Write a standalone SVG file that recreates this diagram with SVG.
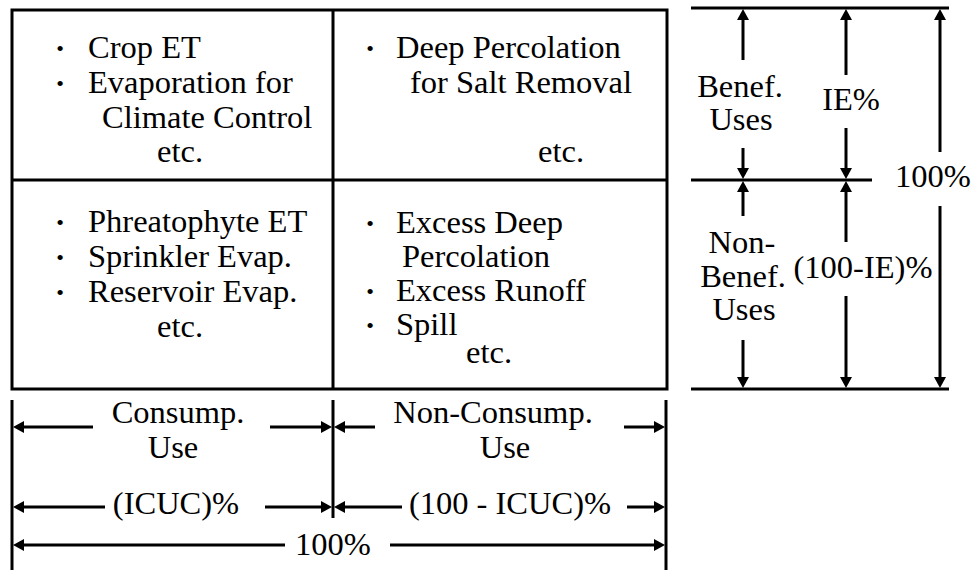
<svg xmlns="http://www.w3.org/2000/svg" width="971" height="570" viewBox="0 0 971 570">
<style>
  .t { font-family: "Liberation Serif", "DejaVu Serif", serif; font-size: 32.5px; fill: #000; }
  .m { text-anchor: middle; }
  .b { font-family: "Liberation Serif", "DejaVu Serif", serif; font-size: 22px; text-anchor: middle; fill: #000; }
  .box { fill: #fff; stroke: #000; stroke-width: 3; }
  .ln { fill: none; stroke: #000; stroke-width: 3; }
  .ar { fill: none; stroke: #000; stroke-width: 3; marker-end: url(#ah); }
</style>
<defs>
  <marker id="ah" markerUnits="userSpaceOnUse" viewBox="0 0 11 12" markerWidth="11" markerHeight="12" refX="6" refY="6" orient="auto">
    <path d="M0,0 L11,6 L0,12 Z" fill="#000"/>
  </marker>
</defs>
<rect width="971" height="570" fill="#fff"/>

<g id="matrix">
  <rect class="box" x="12" y="10" width="655" height="379"/>
  <line class="ln" x1="333" y1="10" x2="333" y2="389"/>
  <line class="ln" x1="12" y1="180" x2="667" y2="180"/>
</g>

<g id="cell-consumptive-beneficial">
  <text class="b" x="60" y="56">•</text>
  <text class="t" x="88" y="58">Crop ET</text>
  <text class="b" x="60" y="91">•</text>
  <text class="t" x="88" y="93">Evaporation for</text>
  <text class="t" x="102" y="128">Climate Control</text>
  <text class="t" x="157" y="162">etc.</text>
</g>

<g id="cell-nonconsumptive-beneficial">
  <text class="b" x="370" y="56">•</text>
  <text class="t" x="396" y="58">Deep Percolation</text>
  <text class="t" x="410" y="93">for Salt Removal</text>
  <text class="t" x="538" y="162">etc.</text>
</g>

<g id="cell-consumptive-nonbeneficial">
  <text class="b" x="60" y="230">•</text>
  <text class="t" x="88" y="232">Phreatophyte ET</text>
  <text class="b" x="60" y="265">•</text>
  <text class="t" x="88" y="267">Sprinkler Evap.</text>
  <text class="b" x="60" y="300">•</text>
  <text class="t" x="88" y="302">Reservoir Evap.</text>
  <text class="t" x="157" y="337">etc.</text>
</g>

<g id="cell-nonconsumptive-nonbeneficial">
  <text class="b" x="370" y="231">•</text>
  <text class="t" x="396" y="233">Excess Deep</text>
  <text class="t" x="402" y="267">Percolation</text>
  <text class="b" x="370" y="299">•</text>
  <text class="t" x="396" y="301">Excess Runoff</text>
  <text class="b" x="370" y="333">•</text>
  <text class="t" x="396" y="335">Spill</text>
  <text class="t" x="466" y="363">etc.</text>
</g>

<g id="label-benef">
  <text class="t m" x="740" y="97">Benef.</text>
  <text class="t m" x="741" y="130">Uses</text>
</g>
<g id="label-ie">
  <text class="t m" x="851" y="110">IE%</text>
</g>
<g id="label-100-right">
  <text class="t m" x="933" y="187">100%</text>
</g>
<g id="label-nonbenef">
  <text class="t m" x="742" y="253">Non-</text>
  <text class="t m" x="743" y="287">Benef.</text>
  <text class="t m" x="744" y="320">Uses</text>
</g>
<g id="label-100-ie">
  <text class="t m" x="863" y="278">(100-IE)%</text>
</g>
<g id="label-consump">
  <text class="t m" x="178" y="423">Consump.</text>
  <text class="t m" x="173" y="458">Use</text>
</g>
<g id="label-nonconsump">
  <text class="t m" x="493" y="423">Non-Consump.</text>
  <text class="t m" x="505" y="458">Use</text>
</g>
<g id="label-icuc">
  <text class="t m" x="176" y="514">(ICUC)%</text>
</g>
<g id="label-100-icuc">
  <text class="t m" x="510" y="514">(100 - ICUC)%</text>
</g>
<g id="label-100-bottom">
  <text class="t m" x="333" y="555">100%</text>
</g>

<g id="connectors">
  <line class="ln" x1="691" y1="8" x2="949" y2="8"/>
  <line class="ln" x1="691" y1="180" x2="872" y2="180"/>
  <line class="ln" x1="691" y1="389" x2="949" y2="389"/>
  <line class="ln" x1="12" y1="400" x2="12" y2="570"/>
  <line class="ln" x1="333" y1="400" x2="333" y2="518"/>
  <line class="ln" x1="666" y1="400" x2="666" y2="570"/>

  <path class="ar" d="M743,60 V14"/>
  <path class="ar" d="M743,148 V174"/>
  <path class="ar" d="M743,216 V186"/>
  <path class="ar" d="M743,340 V383"/>
  <path class="ar" d="M846,75 V14"/>
  <path class="ar" d="M846,128 V174"/>
  <path class="ar" d="M846,242 V186"/>
  <path class="ar" d="M846,296 V383"/>
  <path class="ar" d="M940,152 V14"/>
  <path class="ar" d="M940,206 V383"/>

  <path class="ar" d="M93,427 H18"/>
  <path class="ar" d="M270,427 H327"/>
  <path class="ar" d="M375,427 H339"/>
  <path class="ar" d="M624,427 H660"/>
  <path class="ar" d="M105,507 H18"/>
  <path class="ar" d="M265,507 H327"/>
  <path class="ar" d="M402,507 H339"/>
  <path class="ar" d="M627,507 H660"/>
  <path class="ar" d="M285,545 H18"/>
  <path class="ar" d="M390,545 H660"/>
</g>
</svg>
